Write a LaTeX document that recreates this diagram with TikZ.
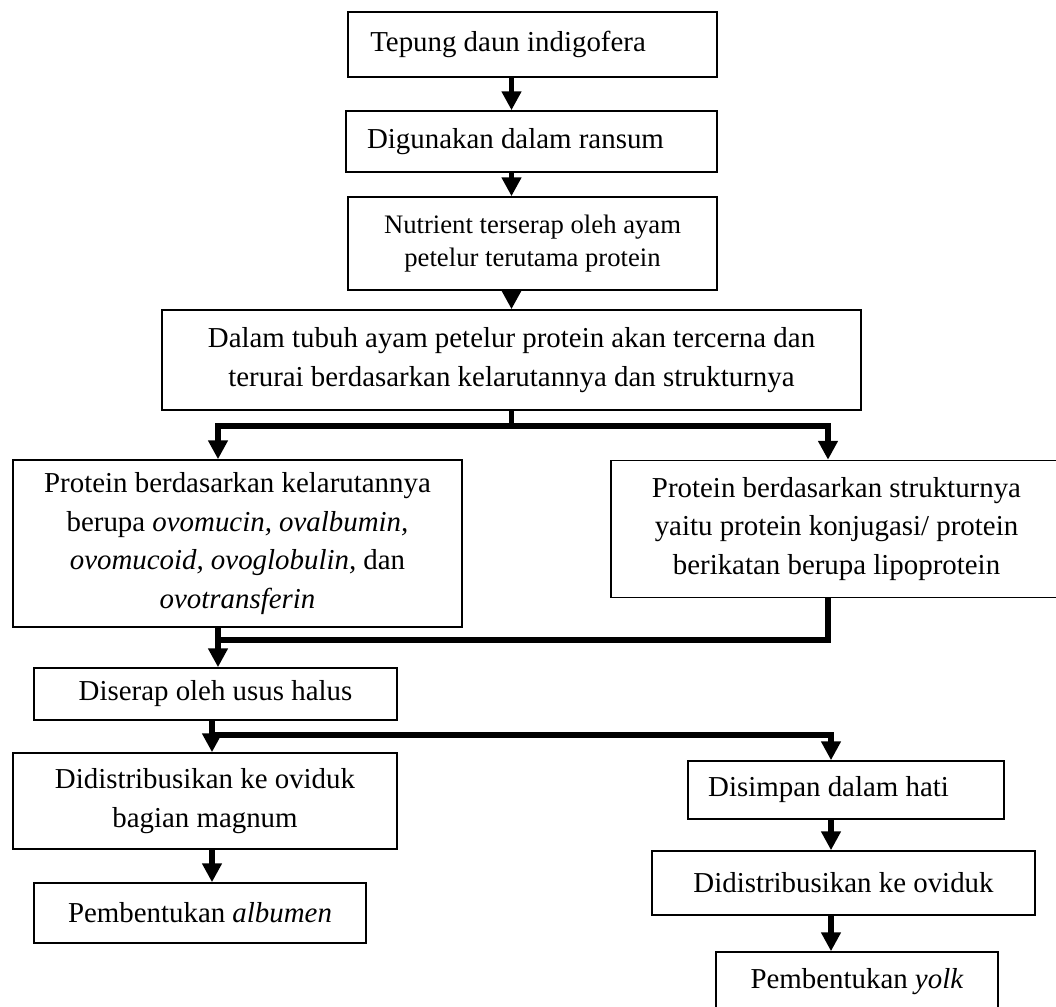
\documentclass[tikz,border=0pt]{standalone}
\usepackage{fontspec}
\setmainfont{Liberation Serif}
\usepackage{tikz}
\usetikzlibrary{arrows.meta}

\begin{document}
\begin{tikzpicture}[x = 0.45pt, y = -0.45pt,
	box/.style={draw, line width = 0.7pt, align = center, inner sep = 0pt, font = \fontsize{13}{17.5}\selectfont},
	arr/.style={line width = 2.6pt, -{Triangle[length = 8.5pt, width = 8.5pt]}},
	bar/.style={line width = 2.6pt}]
	
	\useasboundingbox (0,0) rectangle (1056,1007);
	\clip (0,0) rectangle (1056,1007);
	
	% top column
	\node[box, align = flush left, text width = 146pt, inner xsep = 10pt, minimum height = 29.25pt] (n1) at (532.5,44.5) {Tepung daun indigofera};
	\node[box, align = flush left, text width = 148pt, inner xsep = 9.5pt, minimum height = 27.45pt] (n2) at (531.5,141.5) {Digunakan dalam ransum};
	\node[box, minimum width = 166pt, minimum height = 41.85pt, font = \fontsize{12}{15}\selectfont] (n3) at (532.5,243.5) {Nutrient terserap oleh ayam\\ petelur terutama protein};
	\node[box, minimum width = 314.5pt, minimum height = 45pt] (n4) at (511.5,360) {Dalam tubuh ayam petelur protein akan tercerna dan\\ terurai berdasarkan kelarutannya dan strukturnya};
	
	% two kinds of protein
	\node[box, minimum width = 202pt, minimum height = 75.15pt] (n5) at (237.5,543.5) {Protein berdasarkan kelarutannya\\ berupa \textit{ovomucin, ovalbumin,}\\ \textit{ovomucoid, ovoglobulin,} dan\\ \textit{ovotransferin}};
	\node[box, minimum width = 203pt, minimum height = 61.65pt] (n6) at (836.5,529) {Protein berdasarkan strukturnya\\ yaitu protein konjugasi/ protein\\ berikatan berupa lipoprotein};
	
	\node[box, minimum width = 163.35pt, minimum height = 23.4pt] (n7) at (215.5,694) {Diserap oleh usus halus};
	
	% albumen side
	\node[box, minimum width = 172.8pt, minimum height = 43.2pt] (n8) at (205,801) {Didistribusikan ke oviduk\\ bagian magnum};
	\node[box, minimum width = 149.4pt, minimum height = 27pt] (n9) at (200,913) {Pembentukan \textit{albumen}};
	
	% yolk side
	\node[box, align = flush left, text width = 124pt, inner xsep = 9pt, minimum height = 26.1pt] (n10) at (846,790) {Disimpan dalam hati};
	\node[box, minimum width = 172.35pt, minimum height = 28.8pt] (n11) at (843.5,883) {Didistribusikan ke oviduk};
	\node[box, minimum width = 126.9pt, minimum height = 27pt] (n12) at (857,982) {Pembentukan \textit{yolk}};
	
	\coordinate (jl) at (218,426);
	\coordinate (jr) at (828,426);
	\coordinate (jm) at (218,640);
	\coordinate (kl) at (212,735);
	\coordinate (kr) at (831,735);
	
	\draw[arr] (n1.south -| n4) -- (n2.north -| n4);
	\draw[arr] (n2.south -| n4) -- (n3.north -| n4);
	\draw[arr] (n3.south -| n4) -- (n4.north);
	\draw[arr] (n4.south) |- (jl) -- (jl |- n5.north);
	\draw[arr] (n4.south) |- (jr) -- (jr |- n6.north);
	\draw[bar] (jr |- n6.south) |- (jm);
	\draw[arr] (jl |- n5.south) -- (jl |- n7.north);
	\draw[arr] (kl |- n7.south) |- (kr) -- (kr |- n10.north);
	\draw[arr] (kl |- n7.south) -- (kl |- n8.north);
	\draw[arr] (kl |- n8.south) -- (kl |- n9.north);
	\draw[arr] (kr |- n10.south) -- (kr |- n11.north);
	\draw[arr] (kr |- n11.south) -- (kr |- n12.north);
	
\end{tikzpicture}
\end{document}
